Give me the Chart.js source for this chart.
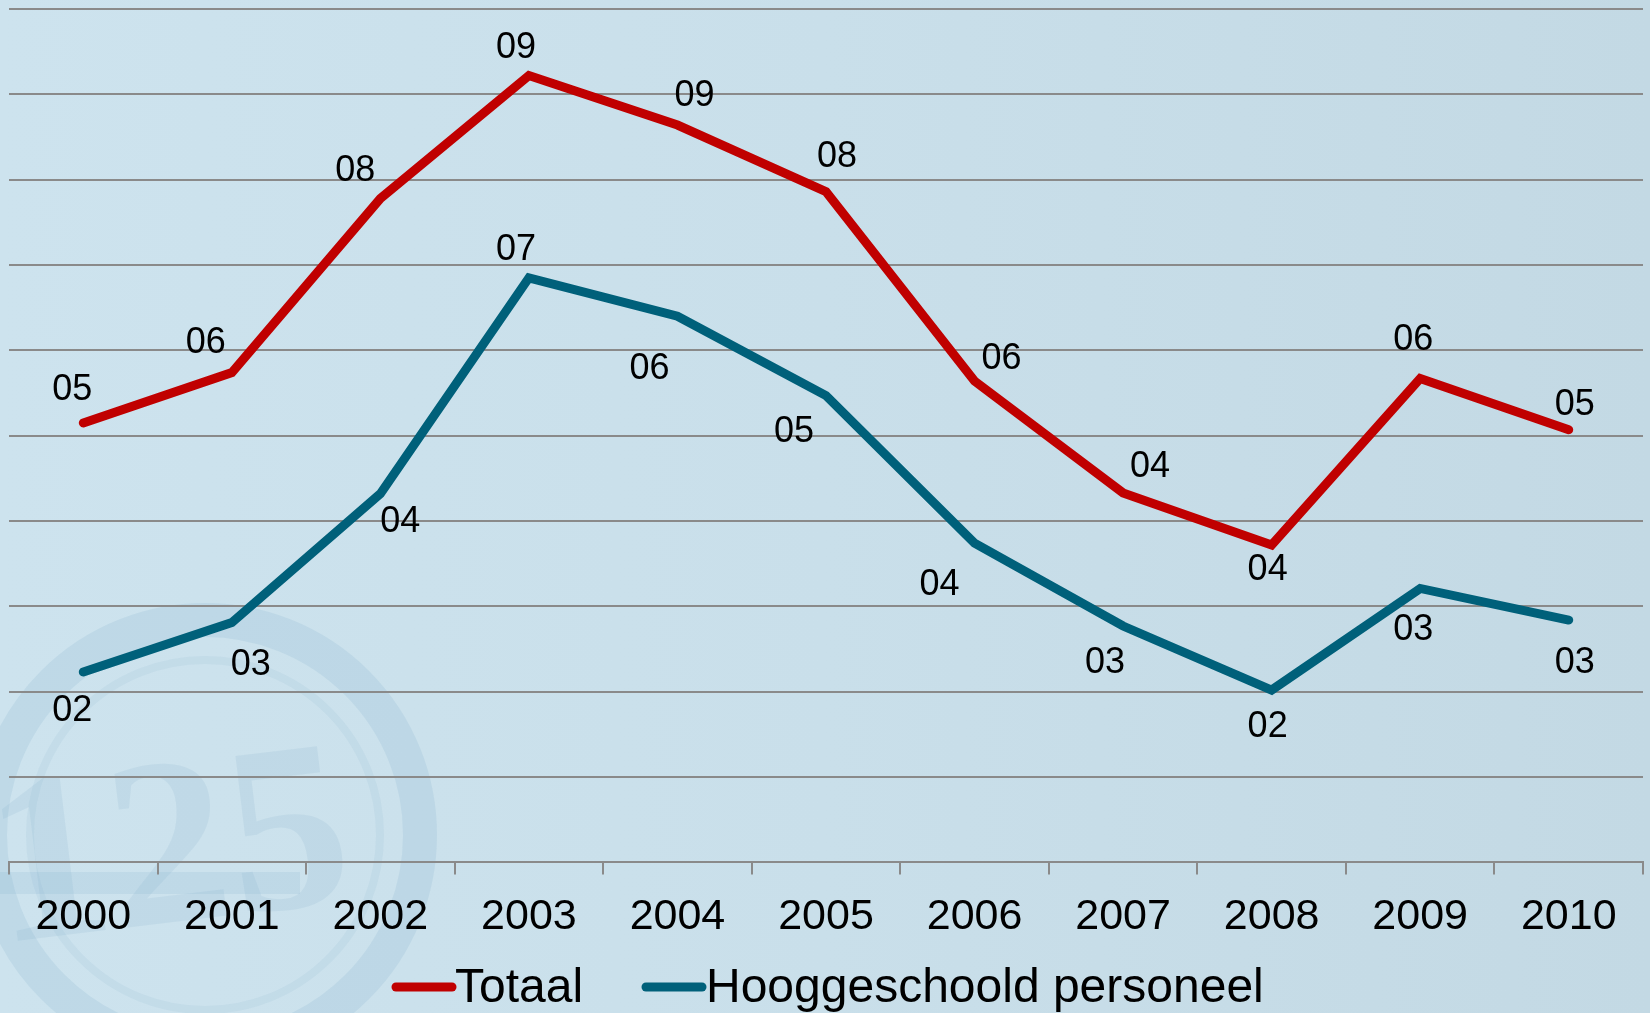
<!DOCTYPE html>
<html>
<head>
<meta charset="utf-8">
<script src="https://cdn.jsdelivr.net/npm/chart.js@4.4.0/dist/chart.umd.min.js"></script>
<style>
  html, body { margin: 0; padding: 0; }
  body {
    width: 1650px; height: 1013px; overflow: hidden;
    background: linear-gradient(to right, #cde3ee 0%, #c9dfea 50%, #c3d9e4 100%);
  }
  #wrap { position: relative; width: 1650px; height: 1013px; }
</style>
</head>
<body>
<div id="wrap"><canvas id="lineChart" width="1650" height="1013"></canvas></div>
<script>
// data
var years = ["2000", "2001", "2002", "2003", "2004", "2005", "2006", "2007", "2008", "2009", "2010"];
var totaal = [5.15, 5.74, 7.78, 9.22, 8.64, 7.86, 5.64, 4.33, 3.72, 5.67, 5.07];
var hooggeschoold = [2.23, 2.81, 4.32, 6.85, 6.40, 5.47, 3.74, 2.77, 2.02, 3.21, 2.84];
var seriesNames = ["Totaal", "Hooggeschoold personeel"];

// where each value label sits relative to its point (px)
var totaalLabelOffset = [[-11,-33],[-26,-29],[-25,-27],[-13,-27],[17,-29],[11,-35],[27,-22],[27,-26],[-4,25],[-7,-38],[6,-25]];
var hoogLabelOffset = [[-11,39],[19,42],[20,28],[-13,-28],[-28,53],[-32,36],[-35,42],[-18,37],[-4,37],[-7,42],[6,43]];

var red = "#c00000";
var teal = "#00607a";
var fontFam = "'Liberation Sans', Arial, sans-serif";

// faint "125" logo in the lower left corner
var watermark = {
  id: "watermark",
  beforeDraw: function (chart) {
    var ctx = chart.ctx;
    ctx.save();
    ctx.strokeStyle = "rgba(120,170,200,0.16)";
    ctx.lineWidth = 34;
    ctx.beginPath();
    ctx.arc(205, 835, 215, 0, Math.PI * 2);
    ctx.stroke();
    ctx.lineWidth = 8;
    ctx.strokeStyle = "rgba(120,170,200,0.10)";
    ctx.beginPath();
    ctx.arc(205, 835, 175, 0, Math.PI * 2);
    ctx.stroke();
    ctx.fillStyle = "rgba(115,165,195,0.14)";
    ctx.fillRect(0, 872, 300, 22);
    ctx.translate(170, 860);
    ctx.rotate(-0.12);
    ctx.font = "bold 240px 'Liberation Serif', serif";
    ctx.textAlign = "center";
    ctx.textBaseline = "middle";
    ctx.fillStyle = "rgba(115,165,195,0.13)";
    ctx.fillText("125", 0, 0);
    ctx.restore();
  }
};

var valueLabels = {
  id: "valueLabels",
  afterDatasetsDraw: function (chart) {
    var ctx = chart.ctx;
    var offsets = [totaalLabelOffset, hoogLabelOffset];
    ctx.save();
    ctx.font = "36px " + fontFam;
    ctx.fillStyle = "#000";
    ctx.textAlign = "center";
    ctx.textBaseline = "middle";
    chart.data.datasets.forEach(function (ds, d) {
      var meta = chart.getDatasetMeta(d);
      meta.data.forEach(function (pt, i) {
        var txt = String(Math.round(ds.data[i])).padStart(2, "0");
        ctx.fillText(txt, pt.x + offsets[d][i][0], pt.y + offsets[d][i][1]);
      });
    });
    ctx.restore();
  }
};

// legend drawn by hand so the text can hug the line sample
var bottomLegend = {
  id: "bottomLegend",
  afterDraw: function (chart) {
    var ctx = chart.ctx;
    var y = 987;
    var items = [[396, 452, 455], [646, 702, 706]];
    ctx.save();
    ctx.font = "48px " + fontFam;
    ctx.textBaseline = "middle";
    ctx.fillStyle = "#000";
    chart.data.datasets.forEach(function (ds, d) {
      ctx.strokeStyle = ds.borderColor;
      ctx.lineWidth = 9;
      ctx.lineCap = "round";
      ctx.beginPath();
      ctx.moveTo(items[d][0], y);
      ctx.lineTo(items[d][1], y);
      ctx.stroke();
      ctx.fillText(ds.label, items[d][2], y + 2);
    });
    ctx.restore();
  }
};

var chartCtx = document.getElementById("lineChart").getContext("2d");
var lineChart = new Chart(chartCtx, {
  type: "line",
  data: {
    labels: years,
    datasets: [{
      label: seriesNames[0],
      data: totaal,
      borderColor: red,
      backgroundColor: red,
      borderWidth: 9,
      borderCapStyle: "round",
      borderJoinStyle: "miter",
      pointRadius: 0,
      tension: 0
    }, {
      label: seriesNames[1],
      data: hooggeschoold,
      borderColor: teal,
      backgroundColor: teal,
      borderWidth: 9,
      borderCapStyle: "round",
      borderJoinStyle: "miter",
      pointRadius: 0,
      tension: 0
    }]
  },
  options: {
    responsive: false,
    animation: false,
    layout: { padding: { left: 9, right: 7, top: 9, bottom: 53 } },
    plugins: {
      legend: { display: false },
      tooltip: { enabled: false }
    },
    scales: {
      x: {
        offset: true,
        grid: {
          offset: true,
          drawOnChartArea: false,
          drawTicks: true,
          tickLength: 12,
          color: "#8a8a8a",
          lineWidth: 2
        },
        border: { display: true, color: "#8a8a8a", width: 2 },
        ticks: {
          color: "#000",
          padding: 17,
          font: { family: fontFam, size: 43 }
        }
      },
      y: {
        min: 0,
        max: 10,
        grid: { color: "#8a8a8a", lineWidth: 2, drawTicks: false },
        border: { display: false },
        ticks: { display: false, stepSize: 1 }
      }
    }
  },
  plugins: [watermark, valueLabels, bottomLegend]
});
</script>
</body>
</html>
